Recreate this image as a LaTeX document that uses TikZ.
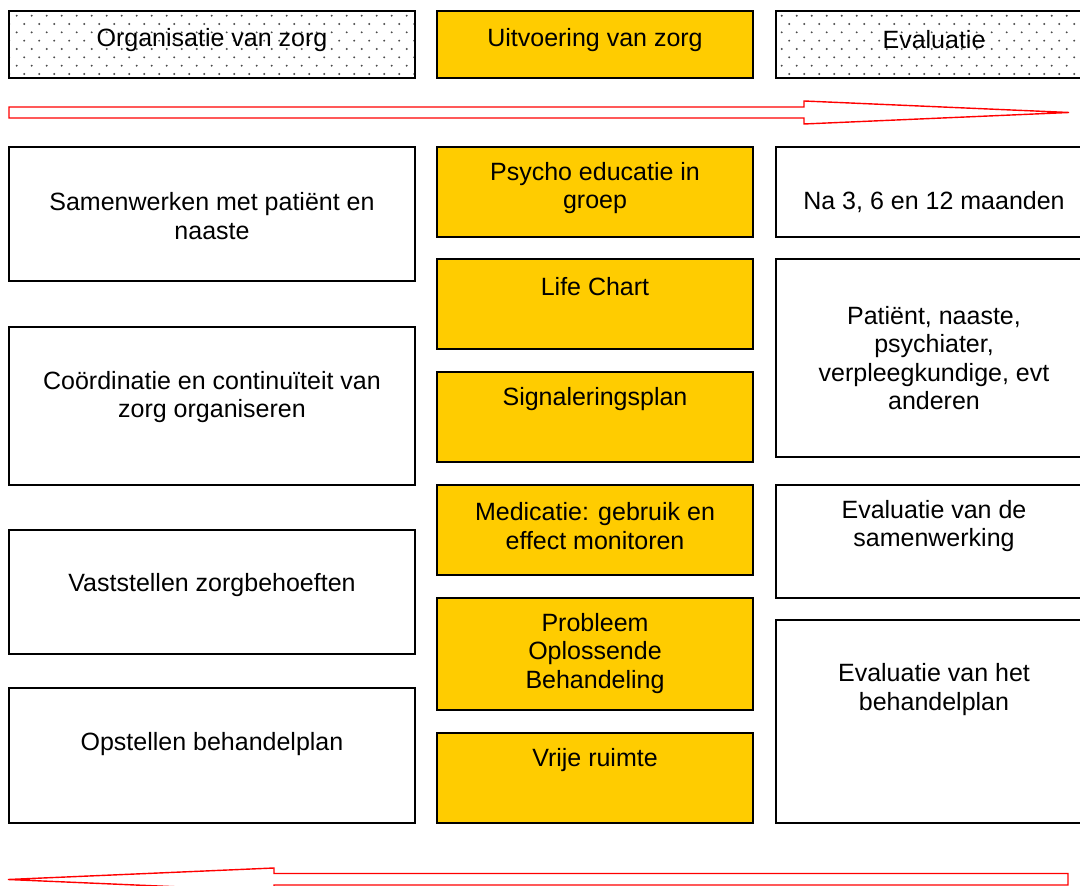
\documentclass[tikz,border=0pt]{standalone}
\usepackage{fontspec}
\setmainfont{Liberation Sans}
\definecolor{zorggeel}{HTML}{FFCC00}
\definecolor{zorgrood}{HTML}{FF0000}
\newcommand\kader[6]{\node[#2, minimum width={(#5-#3)*0.5pt}, minimum height={(#6-#4)*0.5pt}] (#1) at ({(#3+#5)/2},{(#4+#6)/2}) {};}
\begin{document}
\begin{tikzpicture}[x=0.5pt,y=-0.5pt,
  box/.style={draw=black, line width=1pt, inner sep=0pt, outer sep=0pt, rectangle},
  wbox/.style={box, fill=white},
  ybox/.style={box, fill=zorggeel},
  hbox/.style={box},
  txt/.style={font=\fontsize{12.5}{14.3}\selectfont, align=center, inner sep=0pt, text=black, yshift=-1pt},
  arr/.style={draw=zorgrood, line width=0.7pt, line join=miter},
  dot/.style={fill=black!70}]
\useasboundingbox (0,0) rectangle (1080,886);
\clip (0,0) rectangle (1080,886);

% dotted header backgrounds
\foreach \xa/\xb in {9/415, 776/1100} {
  \begin{scope}
    \clip (\xa+1,12) rectangle (\xb-1,77);
    \foreach \r in {0,...,7} {
      \foreach \c in {0,...,73} {
        \fill[dot] ({1.7+\c*15+mod(\r,2)*7.5},{15.7+\r*8.33}) circle[radius=1.1];
      }
    }
  \end{scope}
}

% header boxes
\kader{hl}{hbox}{9}{11}{415}{78}
\kader{hm}{ybox}{437}{11}{753}{78}
\kader{hr}{hbox}{776}{11}{1093}{78}
\node[txt] (thl) at (212,38) {Organisatie van zorg};
\node[txt] (thm) at (595,38) {Uitvoering van zorg};
\node[txt] (thr) at (934,38) {Evaluatie};

% arrows
\draw[arr] (9,107) -- (804,107) -- (804,101) -- (1069,112.5) -- (804,124) -- (804,118) -- (9,118) -- cycle;
\draw[arr] (1068,873.5) -- (274,873.5) -- (274,868) -- (8,879.5) -- (274,891) -- (274,885) -- (1068,885) -- cycle;

% left column
\kader{l1}{wbox}{9}{147}{415}{281}
\kader{l2}{wbox}{9}{327}{415}{485}
\kader{l3}{wbox}{9}{530}{415}{654}
\kader{l4}{wbox}{9}{688}{415}{823}
\node[txt] (tl1) at (212,214) {Samenwerken met pati\"ent en\\naaste};
\node[txt] (tl2) at (212,395) {Co\"ordinatie en continu\"iteit van\\zorg organiseren};
\node[txt] (tl3) at (212,583) {Vaststellen zorgbehoeften};
\node[txt] (tl4) at (212,742) {Opstellen behandelplan};

% middle column
\kader{m1}{ybox}{437}{147}{753}{237}
\kader{m2}{ybox}{437}{259}{753}{349}
\kader{m3}{ybox}{437}{372}{753}{462}
\kader{m4}{ybox}{437}{485}{753}{575}
\kader{m5}{ybox}{437}{598}{753}{710}
\kader{m6}{ybox}{437}{733}{753}{823}
\node[txt] (tm1) at (595,186) {Psycho educatie in\\groep};
\node[txt] (tm2) at (595,285) {Life Chart};
\node[txt] (tm3) at (595,397) {Signaleringsplan};
\node[txt] (tm4) at (595,524) {Medicatie: gebruik en\\effect monitoren};
\node[txt] (tm5) at (595,651.5) {Probleem\\Oplossende\\Behandeling};
\node[txt] (tm6) at (595,758) {Vrije ruimte};

% right column
\kader{r1}{wbox}{776}{147}{1093}{237}
\kader{r2}{wbox}{776}{259}{1093}{457}
\kader{r3}{wbox}{776}{485}{1093}{598}
\kader{r4}{wbox}{776}{620}{1093}{823}
\node[txt] (tr1) at (934,200) {Na 3, 6 en 12 maanden};
\node[txt] (tr2) at (934,356) {Pati\"ent, naaste,\\psychiater,\\verpleegkundige, evt\\anderen};
\node[txt] (tr3) at (934,524) {Evaluatie van de\\samenwerking};
\node[txt] (tr4) at (934,687.5) {Evaluatie van het\\behandelplan};
\end{tikzpicture}
\end{document}
